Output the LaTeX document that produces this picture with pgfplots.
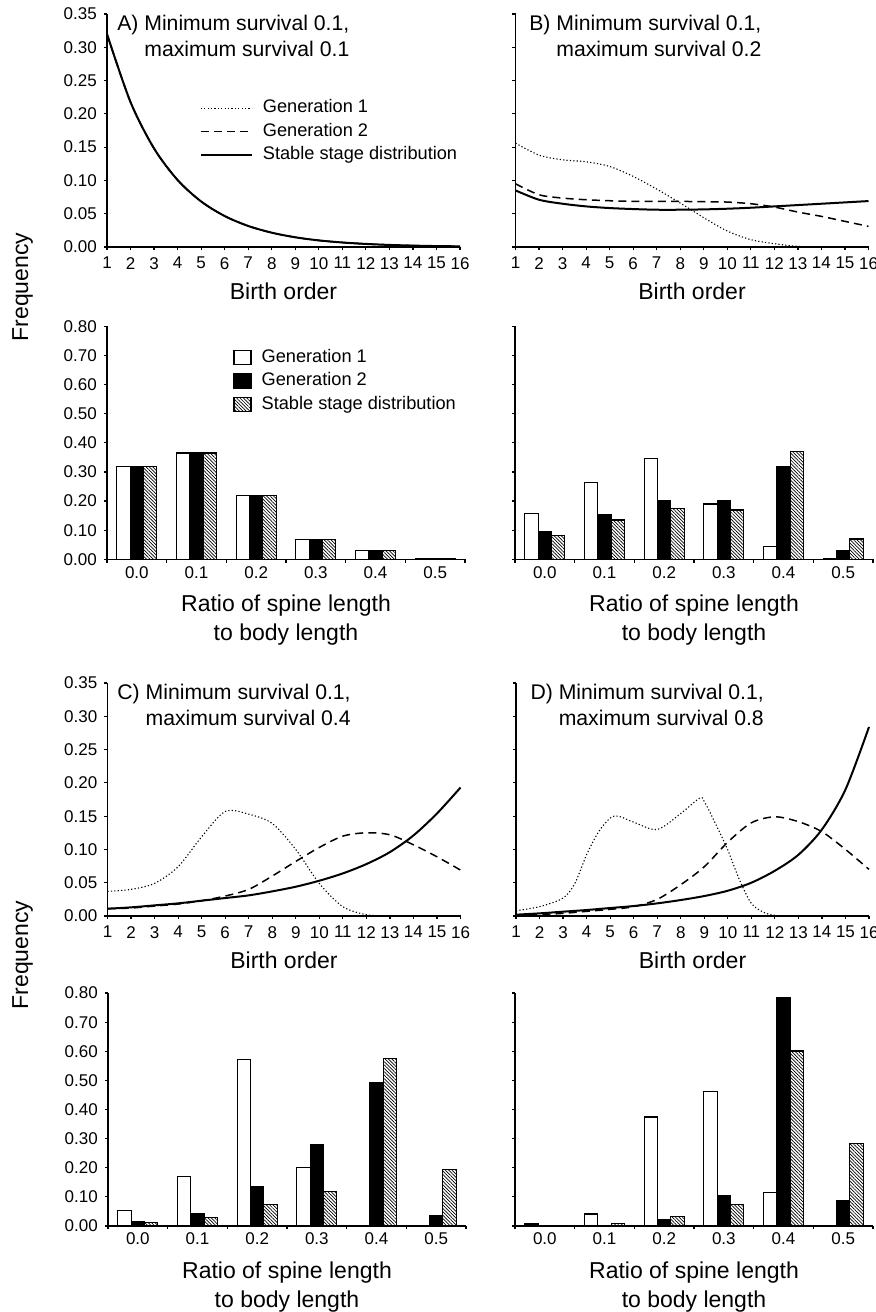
\documentclass[border=0pt]{standalone}
\usepackage{pgfplots}
\pgfplotsset{compat=1.18}
\usepackage{fontspec}
\setmainfont{Liberation Sans}
\usetikzlibrary{patterns.meta}

\tikzset{ttl/.style={anchor=north west, inner sep=0pt, align=left, font=\fontsize{10.6}{13}\selectfont}}

\pgfplotsset{
  panel/.style={
    scale only axis,
    axis x line*=bottom, axis y line*=left,
    axis line style={line width=0.6pt},
    tick align=outside,
    major tick length=1.6pt, minor tick length=1.6pt,
    tick style={line width=0.6pt, black},
    tick label style={font=\fontsize{8.5}{10}\selectfont},
    /pgf/number format/assume math mode=true,
    y tick label style={/pgf/number format/fixed, /pgf/number format/fixed zerofill, /pgf/number format/precision=2},
    ymin=0, clip=false,
    xlabel style={at={(axis description cs:0.5,0)}, anchor=north, yshift=-17.5pt,
      inner sep=0pt, align=center, font=\fontsize{11.5}{14.5}\selectfont},
  },
  curves/.style={panel, width=176.5pt, height=116.5pt, xmin=1, xmax=16, ymax=0.35,
    xtick={1,...,16}, ytick={0,0.05,0.1,0.15,0.2,0.25,0.3,0.35}, xlabel={Birth order}},
  bars/.style={panel, width=179pt, height=116.5pt, xmin=-0.5, xmax=5.5, ymax=0.8,
    ybar=0pt, bar width=6.65pt,
    xtick={-0.5,0.5,...,5.5}, xticklabel=\empty,
    extra x ticks={0,1,2,3,4,5}, extra x tick labels={0.0,0.1,0.2,0.3,0.4,0.5},
    extra x tick style={major tick length=0pt},
    ytick={0,0.1,0.2,0.3,0.4,0.5,0.6,0.7,0.8},
    xlabel={Ratio of spine length\\to body length}},
  g1/.style={black, line width=0.55pt, dash pattern=on 0.6pt off 1.1pt, smooth},
  g2/.style={black, line width=0.75pt, dash pattern=on 4pt off 2.6pt, smooth},
  st/.style={black, line width=1pt, smooth},
  b1/.style={draw=black, fill=white, line width=0.6pt},
  b2/.style={draw=black, fill=black, line width=0.6pt},
  b3/.style={draw=black, line width=0.6pt, pattern={Lines[angle=-45,distance=1.2pt,line width=0.35pt]}},
  linelegend/.style={legend image code/.code={\draw[##1] (0pt,0pt) -- (25.5pt,0pt);}},
  boxlegend/.style={legend image code/.code={\draw[##1] (0pt,-3.5pt) rectangle (8.5pt,3.5pt);}},
  leg/.style={legend cell align=left,
    legend style={anchor=north west, draw=none, fill=none, inner sep=0pt,
      font=\fontsize{9.1}{11}\selectfont, row sep=3.2pt,
      nodes={inner sep=0pt, text height=6.6pt, text depth=1.9pt},
      /tikz/every odd column/.append style={column sep=5pt}}},
}

\begin{document}
\begin{tikzpicture}
\useasboundingbox (0pt,0pt) rectangle (438pt,-656pt);

\node[rotate=90, anchor=base, font=\fontsize{11.5}{14}\selectfont] at (14pt,-143.5pt) {Frequency};
\node[rotate=90, anchor=base, font=\fontsize{11.5}{14}\selectfont] at (14pt,-477.5pt) {Frequency};

% ---------- A: curves
\begin{axis}[curves, at={(53.5pt,-123.5pt)}, anchor=south west,
  leg, legend style={at={(0.262,0.634)}}]
\addplot[g1, linelegend] coordinates {(1,0.3200) (2,0.2176) (3,0.1480) (4,0.1006) (5,0.0684) (6,0.0465) (7,0.0316) (8,0.0215) (9,0.0146) (10,0.0099) (11,0.0068) (12,0.0046) (13,0.0031) (14,0.0021) (15,0.0014) (16,0.0010)};
\addlegendentry{Generation 1}
\addplot[g2, linelegend] coordinates {(1,0.3200) (2,0.2176) (3,0.1480) (4,0.1006) (5,0.0684) (6,0.0465) (7,0.0316) (8,0.0215) (9,0.0146) (10,0.0099) (11,0.0068) (12,0.0046) (13,0.0031) (14,0.0021) (15,0.0014) (16,0.0010)};
\addlegendentry{Generation 2}
\addplot[st, linelegend] coordinates {(1,0.3200) (2,0.2176) (3,0.1480) (4,0.1006) (5,0.0684) (6,0.0465) (7,0.0316) (8,0.0215) (9,0.0146) (10,0.0099) (11,0.0068) (12,0.0046) (13,0.0031) (14,0.0021) (15,0.0014) (16,0.0010)};
\addlegendentry{Stable stage distribution}
\node[ttl] at (rel axis cs:0.028,0.995) {A) Minimum survival 0.1,\\\phantom{A) }maximum survival 0.1};
\end{axis}

% ---------- B: curves
\begin{axis}[curves, at={(257.75pt,-123.5pt)}, anchor=south west, yticklabel=\empty]
\addplot[g1] coordinates {(1,0.156) (2,0.138) (3,0.131) (4,0.128) (5,0.121) (6,0.106) (7,0.087) (8,0.066) (9,0.044) (10,0.024) (11,0.011) (12,0.005) (13,0.001) (14,0.0002) (15,0.0001) (16,0)};
\addplot[g2] coordinates {(1,0.095) (2,0.0785) (3,0.0735) (4,0.071) (5,0.0695) (6,0.0685) (7,0.0685) (8,0.0685) (9,0.068) (10,0.0675) (11,0.065) (12,0.060) (13,0.0525) (14,0.046) (15,0.0385) (16,0.031)};
\addplot[st] coordinates {(1,0.085) (2,0.071) (3,0.065) (4,0.061) (5,0.0585) (6,0.057) (7,0.056) (8,0.056) (9,0.0565) (10,0.0575) (11,0.059) (12,0.061) (13,0.063) (14,0.065) (15,0.067) (16,0.069)};
\node[ttl] at (rel axis cs:0.038,0.995) {B) Minimum survival 0.1,\\\phantom{B) }maximum survival 0.2};
\end{axis}

% ---------- A: bars
\begin{axis}[bars, at={(53.5pt,-279.65pt)}, anchor=south west,
  leg, legend style={at={(0.352,0.9036)}}]
\addplot[b1, boxlegend] coordinates {(0,0.320) (1,0.365) (2,0.218) (3,0.069) (4,0.029) (5,0.002)};
\addlegendentry{Generation 1}
\addplot[b2, boxlegend] coordinates {(0,0.320) (1,0.365) (2,0.218) (3,0.069) (4,0.029) (5,0.002)};
\addlegendentry{Generation 2}
\addplot[b3, boxlegend] coordinates {(0,0.320) (1,0.365) (2,0.218) (3,0.069) (4,0.029) (5,0.002)};
\addlegendentry{Stable stage distribution}
\end{axis}

% ---------- B: bars
\begin{axis}[bars, at={(257.5pt,-279.65pt)}, anchor=south west, yticklabel=\empty]
\addplot[b1] coordinates {(0,0.158) (1,0.263) (2,0.346) (3,0.190) (4,0.043) (5,0.001)};
\addplot[b2] coordinates {(0,0.095) (1,0.152) (2,0.201) (3,0.200) (4,0.320) (5,0.030)};
\addplot[b3] coordinates {(0,0.083) (1,0.135) (2,0.175) (3,0.169) (4,0.370) (5,0.070)};
\end{axis}

% ---------- C: curves
\begin{axis}[curves, at={(53.75pt,-458pt)}, anchor=south west]
\addplot[g1] coordinates {(1,0.037) (2,0.040) (3,0.049) (4,0.074) (5,0.119) (6,0.157) (7,0.153) (8,0.139) (9,0.100) (10,0.049) (11,0.014) (12,0.002) (13,0) (14,0) (15,0) (16,0)};
\addplot[g2] coordinates {(1,0.011) (2,0.012) (3,0.015) (4,0.018) (5,0.023) (6,0.030) (7,0.040) (8,0.060) (9,0.082) (10,0.103) (11,0.120) (12,0.125) (13,0.122) (14,0.107) (15,0.089) (16,0.069)};
\addplot[st] coordinates {(1,0.011) (2,0.013) (3,0.016) (4,0.019) (5,0.023) (6,0.027) (7,0.031) (8,0.037) (9,0.044) (10,0.053) (11,0.064) (12,0.078) (13,0.096) (14,0.121) (15,0.154) (16,0.193)};
\node[ttl] at (rel axis cs:0.027,0.995) {C) Minimum survival 0.1,\\\phantom{C) }maximum survival 0.4};
\end{axis}

% ---------- D: curves
\begin{axis}[curves, at={(258pt,-458pt)}, anchor=south west, yticklabel=\empty]
\addplot[g1] coordinates {(1,0.008) (2,0.014) (3,0.027) (3.5,0.049) (4,0.092) (4.5,0.126) (5,0.147) (5.35,0.150) (6,0.141) (7,0.130) (8,0.154) (8.8,0.177) (9,0.172) (9.5,0.137) (10,0.099) (10.5,0.054) (11,0.019) (11.5,0.006) (12,0.001) (13,0) (14,0) (15,0) (16,0)};
\addplot[g2] coordinates {(1,0.001) (2,0.002) (3,0.004) (4,0.007) (5,0.010) (6,0.014) (7,0.025) (8,0.047) (9,0.074) (10,0.111) (11,0.140) (12,0.149) (13,0.1417) (14,0.1266) (15,0.100) (16,0.070)};
\addplot[st] coordinates {(1,0.002) (2,0.004) (3,0.0065) (4,0.009) (5,0.012) (6,0.015) (7,0.019) (8,0.024) (9,0.030) (10,0.038) (11,0.050) (12,0.068) (13,0.092) (14,0.130) (15,0.190) (16,0.284)};
\node[ttl] at (rel axis cs:0.040,0.995) {D) Minimum survival 0.1,\\\phantom{D) }maximum survival 0.8};
\end{axis}

% ---------- C: bars
\begin{axis}[bars, at={(54pt,-613pt)}, anchor=south west]
\addplot[b1] coordinates {(0,0.052) (1,0.169) (2,0.571) (3,0.201) (4,0.003) (5,0)};
\addplot[b2] coordinates {(0,0.014) (1,0.042) (2,0.134) (3,0.278) (4,0.493) (5,0.035)};
\addplot[b3] coordinates {(0,0.011) (1,0.030) (2,0.073) (3,0.118) (4,0.575) (5,0.195)};
\end{axis}

% ---------- D: bars
\begin{axis}[bars, at={(257.5pt,-613pt)}, anchor=south west, yticklabel=\empty]
\addplot[b1] coordinates {(0,0.007) (1,0.041) (2,0.374) (3,0.462) (4,0.115) (5,0.001)};
\addplot[b2] coordinates {(0,0.002) (1,0.003) (2,0.021) (3,0.103) (4,0.784) (5,0.086)};
\addplot[b3] coordinates {(0,0.0005) (1,0.008) (2,0.032) (3,0.074) (4,0.601) (5,0.283)};
\end{axis}
\end{tikzpicture}
\end{document}
